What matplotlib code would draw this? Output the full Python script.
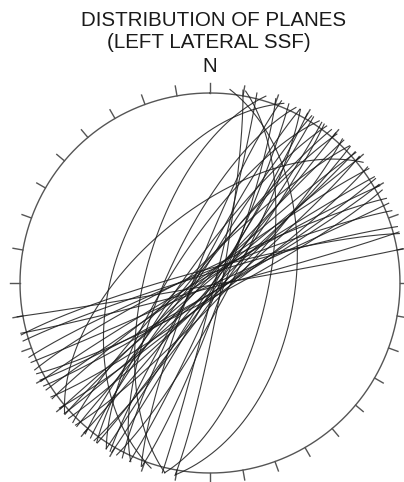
import numpy as np
import matplotlib
matplotlib.use("Agg")
import matplotlib.pyplot as plt

# Planes (right-hand-rule strike, dip)
strikes = [8, 12, 200, 195, 230, 213, 10, 14, 201, 24, 207, 30, 211, 35, 218,
           40, 220, 46, 223, 50, 228, 54, 230, 60, 237, 62, 240, 66, 244, 75,
           253, 80, 255, 43, 225, 36, 216, 58, 248, 28, 32, 205, 48, 234, 20]
dips = [53, 65, 48, 62, 60, 74, 85, 88, 83, 86, 84, 88, 85, 87, 84,
        89, 83, 86, 88, 85, 87, 84, 89, 86, 88, 84, 87, 89, 84, 88,
        86, 89, 84, 83, 82, 85, 80, 86, 85, 82, 89, 72, 88, 86, 84]
tick_azimuths = list(range(0, 360, 10))

title_lines = ["DISTRIBUTION OF PLANES", "(LEFT LATERAL SSF)"]
north_label = "N"

W, H = 404, 482
cx, cy, R = 210, 283, 190

fig = plt.figure(figsize=(W / 100, H / 100), dpi=100)
fig.patch.set_facecolor("white")
ax = fig.add_axes([(cx - R) / W, (H - cy - R) / H, 2 * R / W, 2 * R / H])
ax.set_xlim(-1, 1)
ax.set_ylim(-1, 1)
ax.set_aspect("equal")
ax.axis("off")


def great_circle(strike, dip, ext=3.5):
    t = np.radians(np.linspace(-ext, 180 + ext, 500))
    s = np.radians(strike)
    dd = s + np.pi / 2
    d = np.radians(dip)
    sv = np.array([np.sin(s), np.cos(s), 0.0])
    dv = np.array([np.sin(dd) * np.cos(d), np.cos(dd) * np.cos(d), np.sin(d)])
    v = np.outer(np.cos(t), sv) + np.outer(np.sin(t), dv)
    plunge = np.arcsin(np.clip(v[:, 2], -1, 1))
    trend = np.arctan2(v[:, 0], v[:, 1])
    r = np.sqrt(2) * np.sin((np.pi / 2 - plunge) / 2)
    return r * np.sin(trend), r * np.cos(trend)


# primitive circle
th = np.linspace(0, 2 * np.pi, 721)
ax.plot(np.sin(th), np.cos(th), color="#555555", lw=1.0, clip_on=False)

# ticks every 10 degrees, outward
tl = 10 / R
for az in tick_azimuths:
    a = np.radians(az)
    ax.plot([np.sin(a), (1 + tl) * np.sin(a)], [np.cos(a), (1 + tl) * np.cos(a)],
            color="#555555", lw=1.0, clip_on=False)

for s, d in zip(strikes, dips):
    x, y = great_circle(s, d)
    ax.plot(x, y, color="#1a1a1a", lw=0.8, alpha=0.85, clip_on=False)

fig.text(214 / W, 1 - 20 / H, title_lines[0], ha="center", va="center",
         fontsize=14.8, family="Liberation Sans", color="#1a1a1a")
fig.text(209 / W, 1 - 42 / H, title_lines[1], ha="center", va="center",
         fontsize=14.8, family="Liberation Sans", color="#1a1a1a")
fig.text(210 / W, 1 - 66 / H, north_label, ha="center", va="center",
         fontsize=14.8, family="Liberation Sans", color="#1a1a1a")

fig.savefig("out.png", dpi=100, facecolor="white")
